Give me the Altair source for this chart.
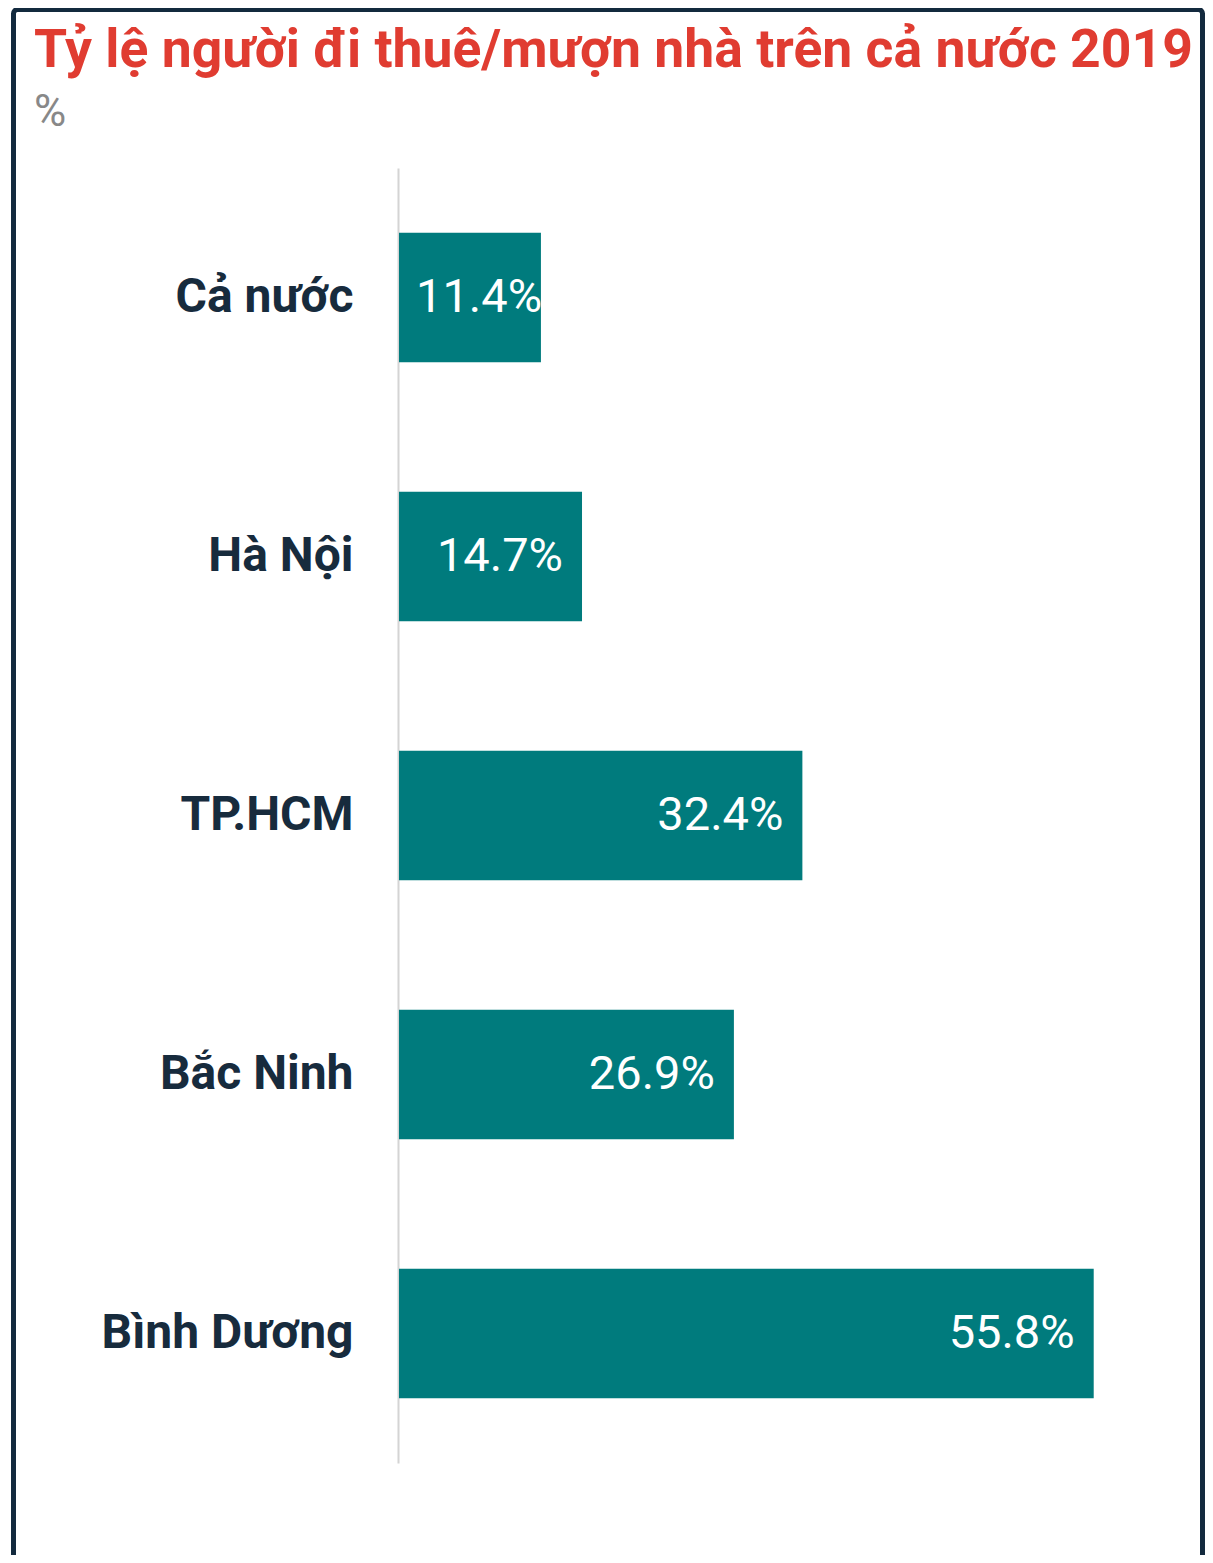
import altair as alt
import pandas as pd

regions = ["Cả nước", "Hà Nội", "TP.HCM", "Bắc Ninh", "Bình Dương"]
values = [11.4, 14.7, 32.4, 26.9, 55.8]

df = pd.DataFrame({"region": regions, "value": values})
df["label"] = [f"{v:.1f}%" for v in values]

BAR = "#007b7d"
FONT = "Roboto"

y_enc = alt.Y(
    "region:N",
    sort=regions,
    title=None,
    scale=alt.Scale(paddingInner=0.5, paddingOuter=0.25),
    axis=alt.Axis(
        ticks=False,
        domain=True,
        domainColor="#d4d4d4",
        domainWidth=2,
        offset=1,
        labelFont=FONT,
        labelFontSize=48,
        labelFontWeight="bold",
        labelColor="#172b3d",
        labelPadding=45,
        labelLimit=400,
        grid=False,
    ),
)
x_scale = alt.Scale(domain=[0, 60], nice=False)

bars = alt.Chart(df).mark_bar(color=BAR).encode(
    x=alt.X("value:Q", scale=x_scale, axis=None),
    y=y_enc,
)

labels_in = (
    alt.Chart(df)
    .transform_filter("datum.value >= 13")
    .mark_text(align="right", baseline="middle", dx=-19, color="white",
               font=FONT, fontSize=47)
    .encode(x=alt.X("value:Q", scale=x_scale), y=alt.Y("region:N", sort=regions), text="label:N")
)
labels_small = (
    alt.Chart(df)
    .transform_filter("datum.value < 13")
    .mark_text(align="left", baseline="middle", dx=17, color="white",
               font=FONT, fontSize=47)
    .encode(x=alt.value(0), y=alt.Y("region:N", sort=regions), text="label:N")
)

frame = (
    alt.Chart(pd.DataFrame({"f": [1]}))
    .mark_rect(fill=None, stroke="#132a3e", strokeWidth=5, cornerRadius=4, clip=False)
    .encode(
        x=alt.value(-385.5),
        x2=alt.value(803.5),
        y=alt.value(-158.5),
        y2=alt.value(1500),
    )
)

chart = (
    alt.layer(bars, labels_in, labels_small, frame)
    .properties(
        width=747,
        height=1295,
        background="white",
        autosize=alt.AutoSizeParams(type="none"),
        padding={"left": 391, "top": 160, "right": 59, "bottom": 92},
        title=alt.TitleParams(
            text="Tỷ lệ người đi thuê/mượn nhà trên cả nước 2019",
            subtitle="%",
            anchor="start",
            frame="group",
            dx=-365,
            offset=-129,
            font=FONT,
            fontSize=53.5,
            fontWeight="bold",
            color="#e03c31",
            subtitleFont=FONT,
            subtitleFontSize=44,
            subtitleColor="#888888",
            subtitlePadding=13,
        ),
    )
    .configure_view(strokeWidth=0, stroke="transparent")
)

chart.save("out.html", embed_options={"renderer": "svg", "actions": False})
